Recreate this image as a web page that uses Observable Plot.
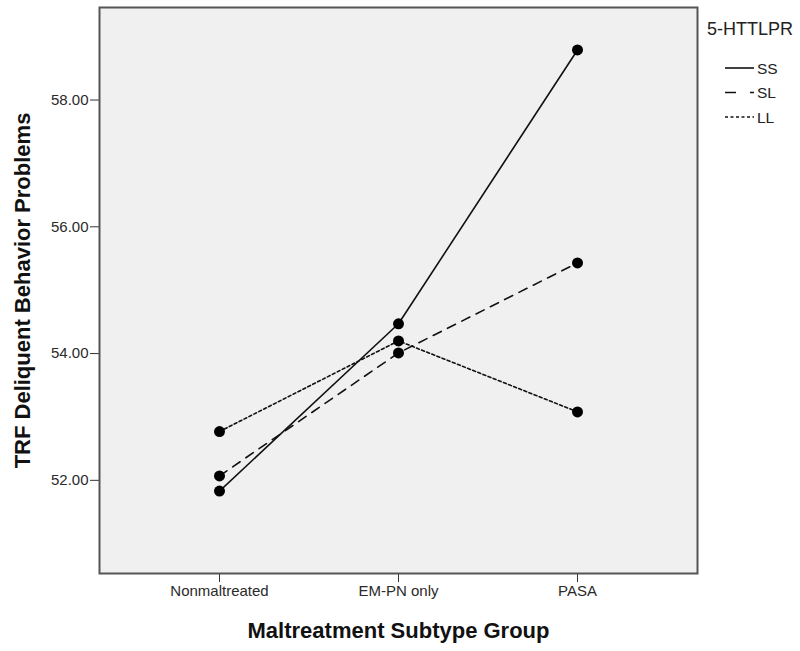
<!DOCTYPE html>
<html>
<head>
<meta charset="utf-8">
<script src="https://cdn.jsdelivr.net/npm/d3@7"></script>
<script src="https://cdn.jsdelivr.net/npm/@observablehq/plot@0.6"></script>
<style>
  html, body { margin: 0; padding: 0; background: #fff; }
  #chart { position: relative; width: 800px; height: 651px; }
</style>
</head>
<body>
<div id="chart"></div>
<script>
const groups = ["Nonmaltreated", "EM-PN only", "PASA"];
const genotypes = ["SS", "SL", "LL"];
const ssValues = [51.83, 54.47, 58.79];
const slValues = [52.07, 54.01, 55.43];
const llValues = [52.77, 54.20, 53.08];
const yTicks = [52, 54, 56, 58];
const dashes = {SS: null, SL: "9,7", LL: "3,2.5"};

const seriesValues = {SS: ssValues, SL: slValues, LL: llValues};
const data = genotypes.flatMap(g => groups.map((grp, i) => ({genotype: g, group: grp, value: seriesValues[g][i]})));

const font = "'Liberation Sans', Arial, sans-serif";

const plot = Plot.plot({
  width: 800,
  height: 651,
  marginLeft: 99,
  marginRight: 103,
  marginTop: 7,
  marginBottom: 78,
  style: {fontFamily: font, fontSize: "15px", color: "#2a2a2a", background: "#fff"},
  x: {type: "point", domain: groups, padding: 0.67, label: null},
  y: {domain: [50.53, 59.46], label: null},
  marks: [
    Plot.frame({fill: "#f0f0f0", stroke: null}),
    Plot.axisX({ticks: groups, tickSize: 9, tickPadding: 3, fontSize: 15, stroke: "#333", label: null}),
    Plot.axisY({ticks: yTicks, tickFormat: d3.format(".2f"), tickSize: 9, tickPadding: 2, fontSize: 15, stroke: "#333", label: null}),
    ...genotypes.map(g => Plot.line(data.filter(d => d.genotype === g), {
      x: "group", y: "value", stroke: "#111", strokeWidth: 1.6,
      strokeDasharray: dashes[g] || undefined
    })),
    Plot.dot(data, {x: "group", y: "value", r: 5.5, fill: "#000", stroke: null}),
    Plot.frame({stroke: "#555", strokeWidth: 2}),
    Plot.text(["Maltreatment Subtype Group"], {frameAnchor: "bottom", dy: 64, textAnchor: "middle", fontSize: 22, fontWeight: "bold", fill: "#111"}),
    Plot.text(["TRF Deliquent Behavior Problems"], {frameAnchor: "left", dx: -77, textAnchor: "middle", rotate: -90, fontSize: 22, fontWeight: "bold", fill: "#111"})
  ]
});

document.getElementById("chart").appendChild(plot);

// legend
const svg = d3.select(plot);
const lg = svg.append("g").attr("font-family", font).attr("fill", "#222").attr("text-anchor", "start");
lg.append("text").attr("x", 707).attr("y", 35).attr("font-size", 18).text("5-HTTLPR");
genotypes.forEach((g, i) => {
  const y = 68 + i * 24.5;
  lg.append("line").attr("x1", 725).attr("x2", 754).attr("y1", y).attr("y2", y)
    .attr("stroke", "#111").attr("stroke-width", 1.6)
    .attr("stroke-dasharray", g === "SL" ? "11,14" : g === "LL" ? "3,2.5" : null);
  lg.append("text").attr("x", 757).attr("y", y + 5.5).attr("font-size", 15.5).text(g);
});
</script>
</body>
</html>
